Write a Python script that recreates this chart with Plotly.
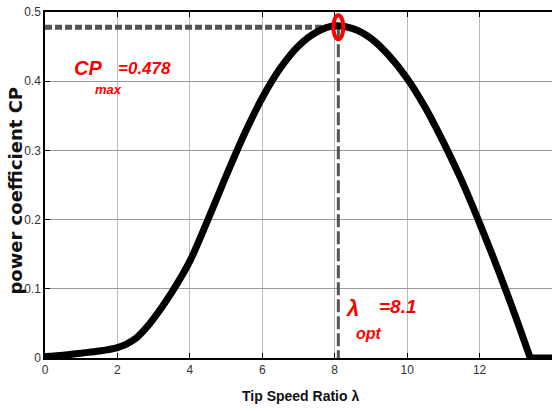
import plotly.graph_objects as go

# Data
lam = [0, 0.5, 1, 1.5, 2, 2.25, 2.5, 2.75, 3, 3.5, 4, 4.5, 5, 5.5, 6, 6.5, 7, 7.5, 8, 8.5,
       9, 9.5, 10, 10.5, 11, 11.5, 12, 12.5, 13, 13.4]
cp = [0.002, 0.004, 0.007, 0.010, 0.015, 0.020, 0.028, 0.041, 0.057, 0.095, 0.140, 0.200,
      0.263, 0.323, 0.376, 0.419, 0.451, 0.471, 0.480, 0.476, 0.462, 0.437,
      0.404, 0.362, 0.312, 0.257, 0.195, 0.129, 0.059, 0.0]
lam_tail = [13.4, 14]
cp_tail = [0.0, 0.0]
lam_opt = 8.1
cp_max = 0.478
x_ticks = [0, 2, 4, 6, 8, 10, 12, 14]
y_ticks = [0, 0.1, 0.2, 0.3, 0.4, 0.5]
y_ticklabels = ["0", "0.1", "0.2", "0.3", "0.4", "0.5"]

SANS = "Liberation Sans, Arial, sans-serif"
RED = "#ff0000"

fig = go.Figure()
# dashed guide lines
fig.add_trace(go.Scatter(x=[0, lam_opt], y=[cp_max, cp_max], mode="lines",
                         line=dict(color="#555555", width=5, dash="7px,3px"),
                         hoverinfo="skip", showlegend=False))
fig.add_trace(go.Scatter(x=[lam_opt, lam_opt], y=[cp_max, 0], mode="lines",
                         line=dict(color="#555555", width=3, dash="13px,4px"),
                         hoverinfo="skip", showlegend=False))
# main curve
fig.add_trace(go.Scatter(x=lam, y=cp, mode="lines",
                         line=dict(color="black", width=7, shape="spline", smoothing=0.8),
                         showlegend=False))
fig.add_trace(go.Scatter(x=lam_tail, y=cp_tail, mode="lines",
                         line=dict(color="black", width=7),
                         showlegend=False))

# red ellipse marking the optimum
fig.add_shape(type="circle", xref="x", yref="y", xsizemode="pixel", ysizemode="pixel",
              xanchor=lam_opt, yanchor=cp_max, x0=-5, x1=5, y0=-12, y1=12,
              line=dict(color=RED, width=4), layer="above")

red_font = lambda s: dict(family=SANS, size=s, color=RED, weight="bold", style="italic")
ann = [
    dict(text="CP", x=0.75, y=0.419, font=red_font(20)),
    dict(text="max", x=1.33, y=0.388, font=red_font(13)),
    dict(text="=0.478", x=1.96, y=0.419, font=red_font(17)),
    dict(text="λ", x=8.27, y=0.071, font=red_font(22)),
    dict(text="opt", x=8.54, y=0.035, font=red_font(16)),
    dict(text="=8.1", x=9.17, y=0.074, font=red_font(19)),
]
for a in ann:
    fig.add_annotation(xref="x", yref="y", showarrow=False, xanchor="left", yanchor="middle", **a)

# axis titles
fig.add_annotation(text="Tip Speed Ratio λ", xref="paper", yref="paper", x=0.503, y=-0.110,
                   xanchor="center", yanchor="middle", showarrow=False,
                   font=dict(family=SANS, size=14, color="#111111", weight="bold"))
fig.add_annotation(text="power coefficient CP", xref="paper", yref="paper", x=-0.059, y=0.484,
                   xanchor="center", yanchor="middle", showarrow=False, textangle=-90,
                   font=dict(family="DejaVu Sans, sans-serif", size=18, color="#111111", weight="bold"))

fig.update_layout(
    width=552, height=411,
    margin=dict(l=45, r=0, t=12, b=53),
    paper_bgcolor="white", plot_bgcolor="white",
    showlegend=False,
    xaxis=dict(range=[0, 14], tickvals=x_ticks, ticks="inside", ticklen=5, tickcolor="black",
               showline=True, linecolor="black", linewidth=2, mirror="ticks",
               showgrid=True, gridcolor="#bbbbbb", gridwidth=1, zeroline=False,
               tickfont=dict(family=SANS, size=12, color="#333333")),
    yaxis=dict(range=[0, 0.5], tickvals=y_ticks, ticktext=y_ticklabels, ticks="inside", ticklen=5,
               tickcolor="black", showline=True, linecolor="black", linewidth=1.5,
               showgrid=True, gridcolor="#999999", gridwidth=1, zeroline=False,
               tickfont=dict(family=SANS, size=12, color="#333333")),
)

fig.write_html("out.html")
